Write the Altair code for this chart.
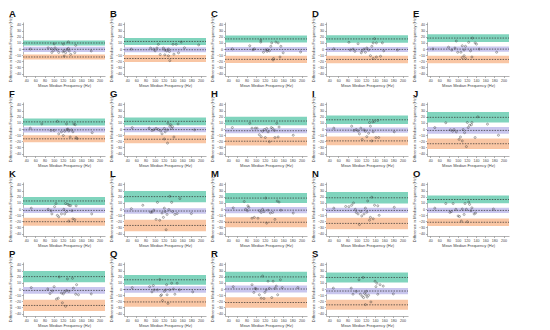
import altair as alt
import pandas as pd

LETTERS = list("ABCDEFGHIJKLMNOPQRS")
UPPER = [9.8, 12.3, 16.4, 16.4, 17.8, 11.6, 12.5, 13.0, 15.0, 19.0, 13.1, 20.2, 17.8, 18.3, 15.5, 20.2, 15.0, 19.7, 18.8]
MEAN = [-0.5, -1.2, -0.7, -0.7, -0.2, -1.4, -1.0, -2.8, -1.9, -2.3, -2.3, -3.3, -1.9, -2.3, -2.3, -2.3, -0.9, 0.0, -3.3]
LOWER = [-13.0, -15.5, -16.9, -17.0, -17.0, -16.0, -16.7, -19.9, -19.4, -24.0, -20.7, -26.8, -21.6, -23.5, -21.6, -26.8, -21.1, -22.0, -25.8]
LOA_CI = [4.2, 5.8, 5.8, 6.2, 6.2, 5.7, 6.4, 7.0, 7.0, 8.6, 6.5, 9.3, 8.2, 9.4, 6.3, 9.1, 8.0, 8.4, 8.2]
MEAN_CI = [4.2, 4.0, 4.0, 4.0, 4.4, 4.4, 4.4, 4.2, 4.2, 5.5, 4.2, 4.5, 5.1, 4.2, 4.2, 5.6, 5.2, 5.8, 5.1]

X_A = [49, 101, 121, 132, 148, 88, 95, 100, 103, 108, 96, 111, 120, 123, 126, 129, 132, 134, 137, 123, 146, 182]
Y_A = [0, 8.4, 7.9, 11.6, 6, 1.9, 0.5, -2.3, 1.9, -1.4, -5.6, -5.6, -4.7, -2.8, -6, -0.9, 1, -3.3, -8.8, -11.6, -6, -3.3]
X_B = [49, 108, 140, 147, 158, 165, 196, 91, 98, 101, 105, 119, 122, 126, 130, 132, 122, 130, 142, 152, 133, 112]
Y_B = [-0.2, 7.6, 7.6, 7.6, 11.3, 2, 6.7, 1.6, -0.2, -3, 1.6, 1.6, -1.6, -3, -0.2, -4, -9.5, -11, -8.5, -6.2, -19, -9]
X_C = [49, 87, 94, 97, 111, 111, 117, 122, 125, 126, 130, 133, 135, 139, 138, 144, 149, 153, 155, 160, 198]
Y_C = [0.2, 5.3, -1.2, 0.2, 14.6, 11.3, -5.3, -1.6, -3.9, -1.2, -3, 4.4, 10, -15.5, -17.8, 11.3, 10, -13, 4.4, -6.2, -4.9]
X_D = [50, 83, 103, 86, 92, 96, 110, 112, 116, 119, 122, 126, 133, 136, 139, 143, 130, 136, 143, 152, 156, 159, 189]
Y_D = [0.2, 10.9, 8.6, -1.6, -0.2, -3.9, -6.2, -3, -0.2, -5.3, 1.6, -1.6, 4.4, 10, 16.9, 10, -10.9, -15.5, -13, -11.8, 10, -3, -1.6]
X_E = [46, 80, 87, 94, 97, 100, 107, 110, 114, 117, 114, 110, 117, 124, 128, 132, 138, 141, 131, 147, 185]
Y_E = [0.2, 3, -1.6, 1.6, 13, -5.3, -5.3, 5.3, -1.6, 4.4, -10.9, -14, -15.5, 10.9, -3, 17.8, 10, 8, -13, -0.2, -5.3]
X_F = [49, 74, 94, 101, 108, 111, 117, 121, 124, 128, 129, 131, 133, 136, 139, 142, 144, 147, 149, 151, 184]
Y_F = [1.4, 8.3, -2.3, -2.3, 12.5, -7.9, -4.6, -10.6, -3.7, 8.3, -0.9, 0, -3.2, -13, -1.4, -4.6, 8.3, 7, -13.9, -15.7, -6]
X_G = [51, 88, 94, 98, 103, 108, 113, 116, 121, 123, 128, 129, 133, 135, 137, 139, 121, 128, 142, 151, 187]
Y_G = [2.3, 1.4, -2.3, -1.4, 0.9, -0.9, -3.2, -7.9, 0.9, -4.6, -1.4, 9.3, 4.6, 7, 0.9, 3.7, -16.2, -23, -13, 8.3, -1.4]
X_H = [49, 87, 92, 99, 103, 108, 112, 115, 119, 121, 124, 127, 130, 134, 137, 141, 142, 146, 149, 151, 182]
Y_H = [2.3, 9.3, 1.4, 1.4, 1.4, -9.3, -12.5, -3.7, -0.9, -13.9, 0.9, -4.6, -20.8, 2.3, 0.9, -2.3, -13.9, 9.3, -13, 3.2, -10.2]
X_I = [50, 89, 94, 99, 103, 106, 109, 112, 116, 119, 122, 126, 128, 130, 133, 135, 136, 139, 146, 142, 148, 182]
Y_I = [1.4, 4.6, -2.3, -0.9, -3.2, -7.9, 1.4, -17.1, -1.4, -3.7, -12.5, -6.9, 10.6, 4.6, -19.4, 11.6, -4.6, 12.5, 13.9, -13.9, -13.9, -4.6]
X_J = [50, 74, 84, 89, 92, 97, 103, 106, 110, 112, 115, 119, 121, 123, 126, 130, 131, 138, 144, 165, 189]
Y_J = [2.3, 10.2, -1.4, -3.7, -0.9, -4.6, -17, -13, -19.4, -0.9, -6, -28.7, 10.6, 2.3, 6, 6.9, 10.6, -13.9, 19.9, 7.9, -10.2]
X_K = [51, 88, 94, 96, 102, 105, 108, 111, 117, 122, 124, 126, 128, 131, 133, 134, 137, 140, 142, 146, 149, 183]
Y_K = [1.4, -0.5, -2.8, -8, 3.8, 8.9, -10.3, -12.7, -8, -0.5, -8, 8.9, -4.2, 7.5, -19.7, 5.6, 5.6, -2.8, -16, -17.4, 5.2, -8]
X_L = [49, 74, 91, 94, 98, 106, 103, 111, 116, 119, 121, 123, 125, 127, 131, 133, 137, 139, 144, 149, 155, 180]
Y_L = [0.5, 6.1, -5.2, -5.2, -1.9, 10.8, -16.9, -18.3, -6.6, -13.6, 1.4, -4.2, -33.8, -8.9, -0.9, 20.7, 10.8, -4.2, -8.9, -7.5, 16.9, -7.5]
X_M = [51, 75, 78, 82, 83, 85, 92, 97, 105, 108, 112, 115, 118, 122, 124, 127, 132, 137, 142, 147, 151, 155, 182]
Y_M = [1.9, 12.2, -0.5, -2.8, 5.2, 2.8, -15, -13.6, -15, -2.8, -5.6, -0.5, -4.2, 17.8, -23, -1.9, -6.6, -5.6, -16.9, 13.1, 11.3, -1.9, -6.6]
X_N = [50, 76, 83, 89, 93, 97, 99, 103, 106, 109, 111, 116, 119, 122, 124, 128, 130, 133, 136, 139, 146, 149, 182]
Y_N = [1.4, 4.2, 3.8, 6.1, 9.9, -0.5, -5.6, -8, -25.4, -4.2, -11.3, -8, 1.4, -5.2, 13.1, -18.3, -13.6, 19.2, -16, 6.1, 5.2, -10.3, 2.8]
X_O = [50, 74, 83, 86, 90, 96, 101, 104, 108, 110, 114, 116, 119, 121, 124, 126, 129, 131, 136, 139, 178]
Y_O = [1.4, 8.9, -5.6, -4.2, 8.9, -0.5, -11.3, -12.2, -19.7, 0, -8.9, 8.9, -0.5, -20.7, 11.3, 7.5, -2.8, 1.9, -8, -6.6, 0]
X_P = [51, 87, 92, 97, 101, 106, 110, 112, 117, 119, 121, 124, 126, 128, 130, 133, 141, 143, 150, 148, 154, 182]
Y_P = [2.3, 0, -7.5, -3.3, 3.8, -16.4, -15, 19.7, -6.6, -22.5, -8, -4.7, -28.2, -2.3, 16.4, -3.8, 17.4, 1.4, 7, -8.5, -9.4, -8]
X_Q = [51, 89, 94, 97, 99, 106, 111, 113, 115, 117, 121, 124, 126, 127, 129, 133, 137, 141, 144, 149, 154, 183]
Y_Q = [2.3, 3.8, -4.7, 5.6, -1.4, -1.4, 15.5, -10.8, -9.4, -18.8, -3.8, -1.4, 7, -9.4, -23.5, -1.4, 9.4, 0, -8.5, 9.4, -1.4, -4.7]
X_R = [51, 92, 96, 99, 101, 108, 112, 115, 118, 120, 123, 127, 130, 135, 138, 142, 145, 148, 154, 158, 192]
Y_R = [3.8, 7, -5.6, 0.9, 0, -9.4, -15, 21.1, -15.5, -5.6, -1.4, 12.7, 0.9, -14, 12.7, 0.9, 4.7, -9.4, 15, 2.3, 2.3]
X_S = [49, 88, 92, 99, 105, 108, 112, 114, 115, 117, 119, 120, 121, 123, 126, 131, 140, 142, 144, 146, 151, 158, 180]
Y_S = [1.4, 1.4, -8.5, -3.8, 15, -8.5, -11.7, 18.8, -14, -7, -25.4, -9.4, -3.8, -13.1, -10.3, -21.1, 12.7, 3.8, 9.4, -8.5, 7, 4.7, -8]

POINTS_X = [X_A, X_B, X_C, X_D, X_E, X_F, X_G, X_H, X_I, X_J, X_K, X_L, X_M, X_N, X_O, X_P, X_Q, X_R, X_S]
POINTS_Y = [Y_A, Y_B, Y_C, Y_D, Y_E, Y_F, Y_G, Y_H, Y_I, Y_J, Y_K, Y_L, Y_M, Y_N, Y_O, Y_P, Y_Q, Y_R, Y_S]

X_TICKS = [40, 60, 80, 100, 120, 140, 160, 180, 200]
Y_TICKS = [-40, -30, -20, -10, 0, 10, 20, 30, 40]

W, H = 82, 54
GREEN, PURPLE, ORANGE = "#80d4bd", "#c9c6ee", "#f9c6a4"

xscale = alt.Scale(domain=[33, 212], nice=False, zero=False)
yscale = alt.Scale(domain=[-44, 44], nice=False, zero=False)
yaxis = alt.Axis(values=Y_TICKS, title="Difference in Median Frequency (Hz)", labelOverlap=False,
                 labelFlush=False, labelFontSize=3.6)
xaxis = alt.Axis(values=X_TICKS, title="Mean Median Frequency (Hz)", labelOverlap=False,
                 labelFlush=False)


def panel(i):
    bands = pd.DataFrame({
        "lo": [UPPER[i] - LOA_CI[i], MEAN[i] - MEAN_CI[i], LOWER[i] - LOA_CI[i]],
        "hi": [UPPER[i] + LOA_CI[i], MEAN[i] + MEAN_CI[i], LOWER[i] + LOA_CI[i]],
        "c": [GREEN, PURPLE, ORANGE],
    })
    lines = pd.DataFrame({"v": [UPPER[i], MEAN[i], LOWER[i]]})
    pts = pd.DataFrame({"x": POINTS_X[i], "y": POINTS_Y[i]})

    rect = alt.Chart(bands).mark_rect().encode(
        x=alt.value(0), x2=alt.value(W),
        y=alt.Y("lo:Q", scale=yscale, axis=yaxis),
        y2="hi:Q",
        color=alt.Color("c:N", scale=None),
    )
    rule = alt.Chart(lines).mark_rule(color="#2f2f2f", strokeDash=[1.5, 1.2], strokeWidth=0.7).encode(
        x=alt.value(0), x2=alt.value(W), y=alt.Y("v:Q", scale=yscale, axis=yaxis)
    )
    dots = alt.Chart(pts).mark_point(shape="circle", filled=False, size=4, color="#333333", strokeWidth=0.6).encode(
        x=alt.X("x:Q", scale=xscale, axis=xaxis),
        y=alt.Y("y:Q", scale=yscale, axis=yaxis),
    )
    return alt.layer(rect, rule, dots).properties(
        width=W, height=H,
        title=alt.TitleParams(text=LETTERS[i], anchor="start", frame="bounds", fontSize=9.5,
                              fontWeight="bold", color="#111111", offset=-2),
    )


rows = []
for r in range(4):
    rows.append(alt.hconcat(*[panel(i) for i in range(r * 5, min(r * 5 + 5, 19))], spacing=3))

chart = alt.vconcat(*rows, spacing=0).properties(padding=0).configure_axis(
    labelFontSize=3.6, titleFontSize=4, tickSize=1.5, labelPadding=1, titlePadding=1.5,
    grid=False, domainColor="#666666", tickColor="#666666", labelColor="#444444",
    titleColor="#444444", domainWidth=0.5, tickWidth=0.5, titleFontWeight="normal",
    labelFont="Liberation Sans", titleFont="Liberation Sans",
).configure_view(stroke=None).configure_title(font="Liberation Sans")

chart.save("out.html", embed_options={"renderer": "svg", "actions": False})
